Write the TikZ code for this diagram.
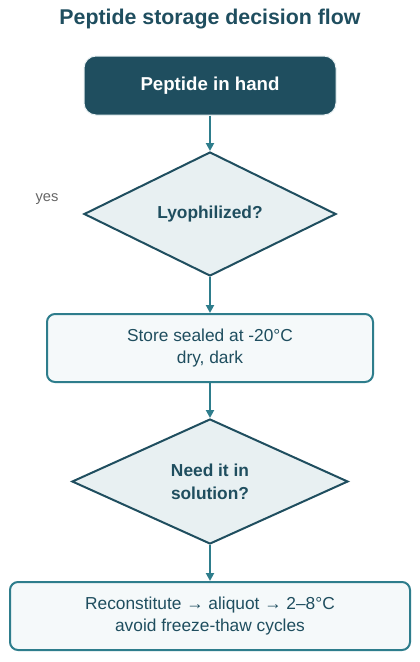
\documentclass[tikz,border=0pt]{standalone}
\usepackage{fontspec}
\setmainfont{Liberation Sans}
\usetikzlibrary{shapes.geometric, arrows.meta}

\definecolor{deepteal}{HTML}{1F4E5F}
\definecolor{lineteal}{HTML}{2E7D8C}
\definecolor{paleteal}{HTML}{E8F0F2}
\definecolor{palebox}{HTML}{F5F9FA}

\tikzset{
  startbox/.style={draw=paleteal, line width=0.75pt, fill=deepteal, rounded corners=9pt,
    text=white, font=\fontsize{14}{16}\selectfont\bfseries, align=center},
  question/.style={diamond, draw=deepteal, line width=1.5pt, fill=paleteal, inner sep=0pt,
    text=deepteal, font=\fontsize{13}{17}\selectfont\bfseries, align=center},
  stepbox/.style={draw=lineteal, line width=1.5pt, fill=palebox, rounded corners=6pt,
    text=deepteal, font=\fontsize{13}{16.5}\selectfont, align=center},
  flow/.style={-{Triangle[length=6pt, width=6pt]}, draw=lineteal, line width=1.5pt}
}

\begin{document}
\begin{tikzpicture}[x=0.75pt, y=-0.75pt]
    % page frame
    \useasboundingbox[fill=white] (0,0) rectangle (420,662);

    % title
    \node[text=deepteal, font=\fontsize{16}{19}\selectfont\bfseries] (title) at (210,19) {Peptide storage decision flow};

    % flow nodes
    \node[startbox, minimum width=189pt, minimum height=44.25pt] (hand) at (210,85.5) {Peptide in hand};
    \node[question, minimum width=189pt, minimum height=93pt] (lyo) at (210,214) {Lyophilized?};
    \node[stepbox, minimum width=244.5pt, minimum height=51pt] (sealed) at (210,348) {Store sealed at -20°C\\dry, dark};
    \node[question, minimum width=207pt, minimum height=93.75pt] (solution) at (210,481.5) {Need it in\\solution?};
    \node[stepbox, minimum width=300pt, minimum height=51pt] (recon) at (210,616) {Reconstitute → aliquot → 2–8°C\\avoid freeze-thaw cycles};

    % label
    \node[text=black!60, font=\fontsize{11}{13}\selectfont] (yes) at (47,199) {yes};

    % connectors
    \draw[flow] (hand) -- (lyo);
    \draw[flow] (lyo) -- (sealed);
    \draw[flow] (sealed) -- (solution);
    \draw[flow] (solution) -- (recon);
\end{tikzpicture}
\end{document}
